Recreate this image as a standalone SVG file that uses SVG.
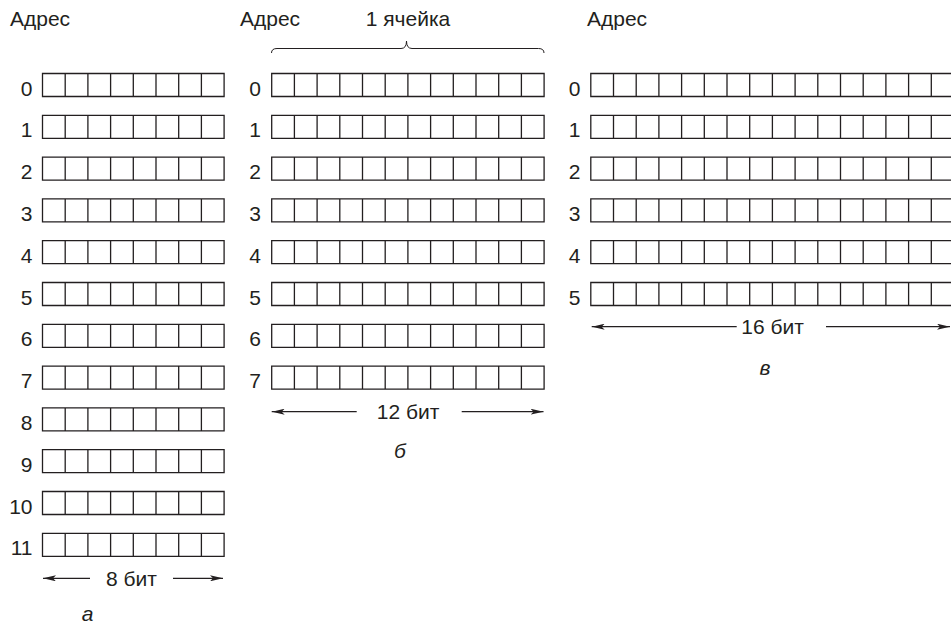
<svg xmlns="http://www.w3.org/2000/svg" xmlns:xlink="http://www.w3.org/1999/xlink" width="951" height="626" viewBox="0 0 951 626">
<style>
text{font-family:"Liberation Sans",Arial,sans-serif;font-size:21px;fill:#231f20}
.lbl{text-anchor:end}
.mid{text-anchor:middle}
.it{font-style:italic;text-anchor:middle}
.cell{fill:none;stroke:#231f20;stroke-width:1.3}
.ln{stroke:#231f20;stroke-width:1.3;fill:none}
.brace{stroke:#231f20;stroke-width:1;fill:none}
</style>
<defs>
<marker id="ah" viewBox="0 0 13 6" refX="13" refY="3" markerWidth="13" markerHeight="6" markerUnits="userSpaceOnUse" orient="auto-start-reverse">
<path d="M0,0 L13,3 L0,6 L3,3 Z" fill="#231f20"/>
</marker>
<path id="row8" class="cell" d="M0,0 H181.6 V23 H0 Z M22.7,0 V23 M45.4,0 V23 M68.1,0 V23 M90.8,0 V23 M113.5,0 V23 M136.2,0 V23 M158.9,0 V23"/>
<path id="row12" class="cell" d="M0,0 H272.4 V23 H0 Z M22.7,0 V23 M45.4,0 V23 M68.1,0 V23 M90.8,0 V23 M113.5,0 V23 M136.2,0 V23 M158.9,0 V23 M181.6,0 V23 M204.3,0 V23 M227,0 V23 M249.7,0 V23"/>
<path id="row16" class="cell" d="M0,0 H363.2 V23 H0 Z M22.7,0 V23 M45.4,0 V23 M68.1,0 V23 M90.8,0 V23 M113.5,0 V23 M136.2,0 V23 M158.9,0 V23 M181.6,0 V23 M204.3,0 V23 M227,0 V23 M249.7,0 V23 M272.4,0 V23 M295.1,0 V23 M317.8,0 V23 M340.5,0 V23"/>
</defs>
<rect width="951" height="626" fill="#fff"/>

<g id="memA">
<text x="10" y="26">Адрес</text>
<g id="a-rows">
<use xlink:href="#row8" x="42.5" y="73.5"/>
<use xlink:href="#row8" x="42.5" y="115.3"/>
<use xlink:href="#row8" x="42.5" y="157.1"/>
<use xlink:href="#row8" x="42.5" y="198.9"/>
<use xlink:href="#row8" x="42.5" y="240.7"/>
<use xlink:href="#row8" x="42.5" y="282.5"/>
<use xlink:href="#row8" x="42.5" y="324.3"/>
<use xlink:href="#row8" x="42.5" y="366.1"/>
<use xlink:href="#row8" x="42.5" y="407.9"/>
<use xlink:href="#row8" x="42.5" y="449.7"/>
<use xlink:href="#row8" x="42.5" y="491.5"/>
<use xlink:href="#row8" x="42.5" y="533.3"/>
</g>
<g id="a-labels" class="lbl">
<text class="lbl" x="32.5" y="95.5">0</text>
<text class="lbl" x="32.5" y="137.3">1</text>
<text class="lbl" x="32.5" y="179.1">2</text>
<text class="lbl" x="32.5" y="220.9">3</text>
<text class="lbl" x="32.5" y="262.7">4</text>
<text class="lbl" x="32.5" y="304.5">5</text>
<text class="lbl" x="32.5" y="346.3">6</text>
<text class="lbl" x="32.5" y="388.1">7</text>
<text class="lbl" x="32.5" y="429.9">8</text>
<text class="lbl" x="32.5" y="471.7">9</text>
<text class="lbl" x="32.5" y="513.5">10</text>
<text class="lbl" x="32.5" y="555.3">11</text>
</g>
<text class="mid" x="131.5" y="585.5">8 бит</text>
<text class="it" x="87.5" y="621">а</text>
</g>

<g id="memB">
<text x="240" y="26">Адрес</text>
<text class="mid" x="408" y="26">1 ячейка</text>
<path class="brace" d="M271.5,53 Q271.5,48.5 277,48.5 L401,48.5 Q406.5,48.5 406.5,41 Q406.5,48.5 412,48.5 L538.5,48.5 Q544,48.5 544,53"/>
<g id="b-rows">
<use xlink:href="#row12" x="271.7" y="73.5"/>
<use xlink:href="#row12" x="271.7" y="115.3"/>
<use xlink:href="#row12" x="271.7" y="157.1"/>
<use xlink:href="#row12" x="271.7" y="198.9"/>
<use xlink:href="#row12" x="271.7" y="240.7"/>
<use xlink:href="#row12" x="271.7" y="282.5"/>
<use xlink:href="#row12" x="271.7" y="324.3"/>
<use xlink:href="#row12" x="271.7" y="366.1"/>
</g>
<g id="b-labels">
<text class="lbl" x="261" y="95.5">0</text>
<text class="lbl" x="261" y="137.3">1</text>
<text class="lbl" x="261" y="179.1">2</text>
<text class="lbl" x="261" y="220.9">3</text>
<text class="lbl" x="261" y="262.7">4</text>
<text class="lbl" x="261" y="304.5">5</text>
<text class="lbl" x="261" y="346.3">6</text>
<text class="lbl" x="261" y="388.1">7</text>
</g>
<text class="mid" x="408" y="419">12 бит</text>
<text class="it" x="400" y="458">б</text>
</g>

<g id="memC">
<text x="587" y="26">Адрес</text>
<g id="c-rows">
<use xlink:href="#row16" x="590.8" y="73.5"/>
<use xlink:href="#row16" x="590.8" y="115.3"/>
<use xlink:href="#row16" x="590.8" y="157.1"/>
<use xlink:href="#row16" x="590.8" y="198.9"/>
<use xlink:href="#row16" x="590.8" y="240.7"/>
<use xlink:href="#row16" x="590.8" y="282.5"/>
</g>
<g id="c-labels">
<text class="lbl" x="580.5" y="95.5">0</text>
<text class="lbl" x="580.5" y="137.3">1</text>
<text class="lbl" x="580.5" y="179.1">2</text>
<text class="lbl" x="580.5" y="220.9">3</text>
<text class="lbl" x="580.5" y="262.7">4</text>
<text class="lbl" x="580.5" y="304.5">5</text>
</g>
<text class="mid" x="772.5" y="334">16 бит</text>
<text class="it" x="765" y="375">в</text>
</g>

<g id="connectors">
<line class="ln" x1="90" y1="578.3" x2="43" y2="578.3" marker-end="url(#ah)"/>
<line class="ln" x1="173" y1="578.3" x2="223" y2="578.3" marker-end="url(#ah)"/>
<line class="ln" x1="356.7" y1="411.7" x2="271.7" y2="411.7" marker-end="url(#ah)"/>
<line class="ln" x1="461.7" y1="411.7" x2="543.5" y2="411.7" marker-end="url(#ah)"/>
<line class="ln" x1="736.7" y1="326.7" x2="591.7" y2="326.7" marker-end="url(#ah)"/>
<line class="ln" x1="826" y1="326.7" x2="950" y2="326.7" marker-end="url(#ah)"/>
</g>
</svg>
